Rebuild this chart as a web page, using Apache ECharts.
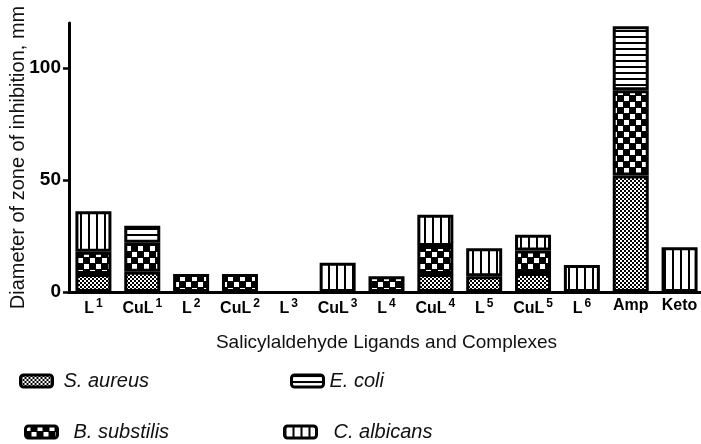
<!DOCTYPE html>
<html>
<head>
<meta charset="utf-8">
<script src="https://cdn.jsdelivr.net/npm/echarts@6/dist/echarts.min.js"></script>
<style>
  html, body { margin: 0; padding: 0; background: #fff; }
  #chart { width: 701px; height: 444px; }
</style>
</head>
<body>
<div id="chart"></div>
<script>
// compounds tested (digit = superscript)
const categories = ['L1', 'CuL1', 'L2', 'CuL2', 'L3', 'CuL3', 'L4', 'CuL4', 'L5', 'CuL5', 'L6', 'Amp', 'Keto'];

// zone of inhibition, mm (null = no activity)
const sAureus   = [8,    9,    null, null, null, null, null, 8,    7,    8.5,  null, 52,   null];
const bSubtilis = [10,   13,   8,    8,    null, null, 7,    12.5, null, 10,   null, 38,   null];
const eColi     = [null, 7.5,  null, null, null, null, null, null, null, null, null, 28.5, null];
const cAlbicans = [18,   null, null, null, null, 13,   null, 14,   12.5, 7,    12,   null, 20];

const yMin = 0;
const yMax = 120;
const yTickValues = [0, 50, 100];

const font = '"Liberation Sans", Arial, sans-serif';

// hatch fills drawn on small canvases
function makePattern(w, h, draw) {
  const c = document.createElement('canvas');
  c.width = w;
  c.height = h;
  const ctx = c.getContext('2d');
  ctx.fillStyle = '#fff';
  ctx.fillRect(0, 0, w, h);
  ctx.fillStyle = '#000';
  draw(ctx);
  return { image: c, repeat: 'repeat' };
}

const fineChecker = makePattern(4, 4, (ctx) => {
  ctx.fillRect(2, 0, 2, 2);
  ctx.fillRect(0, 2, 2, 2);
});
const bigChecker = makePattern(12, 12, (ctx) => {
  ctx.fillRect(0, 0, 12, 12);
  ctx.fillStyle = '#fff';
  ctx.fillRect(0, 0, 5, 5);
  ctx.fillRect(6, 6, 5, 5);
});
const hLines = makePattern(6, 6, (ctx) => {
  ctx.fillRect(0, 0, 6, 2);
});
const vLines = makePattern(8, 8, (ctx) => {
  ctx.fillRect(0, 0, 2, 8);
});

const chart = echarts.init(document.getElementById('chart'));

function barSeries(name, data, fill) {
  return {
    name,
    type: 'bar',
    stack: 'total',
    barWidth: 36,
    data,
    itemStyle: {
      color: fill,
      borderColor: '#000',
      borderWidth: 3,
    },
  };
}

function legendAt(name, left, top, gap) {
  return {
    data: [name],
    left,
    top,
    padding: 0,
    itemWidth: 32,
    itemHeight: 12,
    selectedMode: false,
    itemStyle: { borderWidth: 3, borderColor: '#000' },
    textStyle: {
      fontFamily: font,
      fontSize: 20,
      fontStyle: 'italic',
      color: '#111',
      padding: [0, 0, 0, gap],
    },
  };
}

chart.setOption({
  animation: false,
  backgroundColor: '#fff',
  grid: { left: 69, top: 23, width: 635, height: 269, outerBoundsMode: 'none', containLabel: false },
  legend: [
    legendAt('S. aureus', 19, 371, 6),
    legendAt('E. coli', 290, 371, 1),
    legendAt('B. substilis', 24, 422, 11),
    legendAt('C. albicans', 283, 422, 12),
  ],
  xAxis: {
    type: 'category',
    data: categories,
    name: 'Salicylaldehyde Ligands and Complexes',
    nameLocation: 'middle',
    nameGap: 41,
    nameMoveOverlap: false,
    nameTextStyle: { fontFamily: font, fontSize: 19, color: '#111' },
    axisLine: { lineStyle: { color: '#000', width: 3 } },
    axisTick: { alignWithLabel: true, length: 6, lineStyle: { color: '#000', width: 2.5 } },
    axisLabel: {
      interval: 0,
      margin: 6,
      formatter: (v) => {
        const m = v.match(/^(\D+)(\d)$/);
        return m ? `{b|${m[1]}}{s|${m[2]}}` : `{b|${v}}`;
      },
      rich: {
        b: { fontFamily: font, fontSize: 16, fontWeight: 'bold', color: '#000' },
        s: { fontFamily: font, fontSize: 12, fontWeight: 'bold', color: '#000', padding: [0, 0, 10, 2] },
      },
    },
  },
  yAxis: {
    type: 'value',
    min: yMin,
    max: yMax,
    name: 'Diameter of zone of inhibition, mm',
    nameLocation: 'middle',
    nameGap: 41,
    nameMoveOverlap: false,
    nameTextStyle: { fontFamily: font, fontSize: 20, color: '#111' },
    splitLine: { show: false },
    axisLine: { show: true, lineStyle: { color: '#000', width: 3 } },
    axisTick: { show: true, length: 6, customValues: yTickValues, lineStyle: { color: '#000', width: 2.5 } },
    axisLabel: {
      margin: 8,
      customValues: yTickValues,
      fontFamily: font,
      fontSize: 19,
      fontWeight: 'bold',
      color: '#000',
    },
  },
  series: [
    barSeries('S. aureus', sAureus, fineChecker),
    barSeries('B. substilis', bSubtilis, bigChecker),
    barSeries('E. coli', eColi, hLines),
    barSeries('C. albicans', cAlbicans, vLines),
  ],
});
</script>
</body>
</html>
